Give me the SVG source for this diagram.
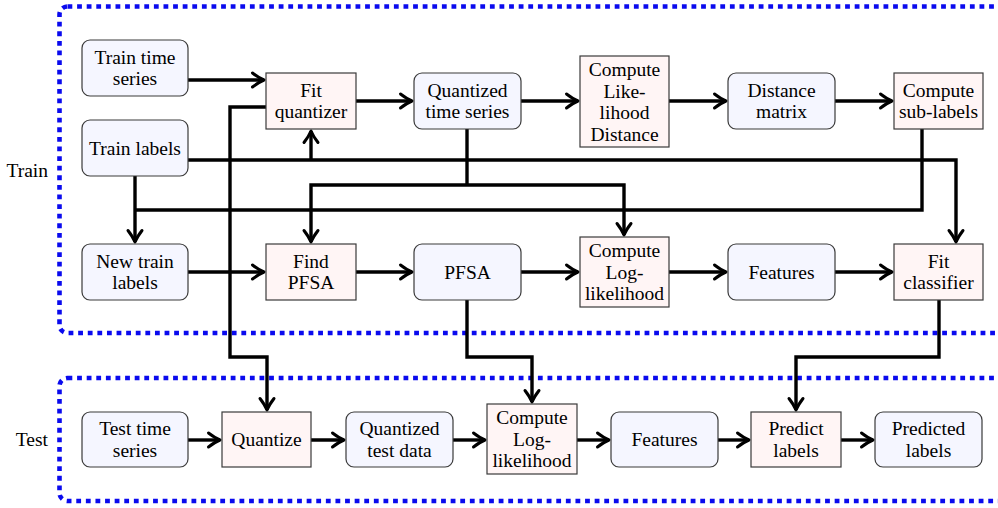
<svg xmlns="http://www.w3.org/2000/svg" width="998" height="508" viewBox="0 0 998 508">
<style>
.rn{fill:#f5f6ff;stroke:#3a3a3a;stroke-width:1.2}
.sq{fill:#fff5f5;stroke:#3a3a3a;stroke-width:1.2}
.grp{fill:none;stroke:#0a0aee;stroke-width:4.6;stroke-dasharray:4.8 4.8}
.w{fill:none;stroke:#000;stroke-width:3.4}
.a{marker-end:url(#ah)}
</style>
<defs>
<marker id="ah" markerUnits="userSpaceOnUse" markerWidth="24" markerHeight="24" viewBox="-16 -12 24 24" refX="0" refY="0" orient="auto" overflow="visible">
<path d="M-11.5,-7 Q-5,-2 0,0 Q-5,2 -11.5,7" fill="none" stroke="#000" stroke-width="3" stroke-linecap="round" stroke-linejoin="round"/>
</marker>
</defs>
<rect width="998" height="508" fill="#fff"/>
<g id="train-group">
<rect class="grp" x="59.5" y="6.5" width="960" height="326.5" rx="8"/>
<text x="48" y="177" text-anchor="end" font-family="'Liberation Serif'" font-size="19.5">Train</text>
</g>
<g id="test-group">
<rect class="grp" x="59.5" y="378" width="960" height="123" rx="8"/>
<text x="48" y="446" text-anchor="end" font-family="'Liberation Serif'" font-size="19.5">Test</text>
</g>
<g id="connectors">
<path class="w a" d="M188,80 H264"/>
<path class="w a" d="M356,101 H412"/>
<path class="w a" d="M521,101 H578"/>
<path class="w a" d="M669,101 H726"/>
<path class="w a" d="M835,101 H892"/>
<path class="w a" d="M188,272 H264"/>
<path class="w a" d="M356,272 H412"/>
<path class="w a" d="M521,272 H578"/>
<path class="w a" d="M669,272 H726"/>
<path class="w a" d="M835,272 H892"/>
<path class="w a" d="M188,440 H220"/>
<path class="w a" d="M311,440 H344"/>
<path class="w a" d="M453,440 H485"/>
<path class="w a" d="M577,440 H609"/>
<path class="w a" d="M718,440 H749"/>
<path class="w a" d="M841,440 H873"/>
<path class="w a" d="M188,160 H956 V242"/>
<path class="w a" d="M311,160 V131"/>
<path class="w a" d="M135,176 V242"/>
<path class="w" d="M922,129 V210 H135"/>
<path class="w" d="M467,129 V185"/>
<path class="w a" d="M467,185 H311 V242"/>
<path class="w a" d="M467,185 H624 V235"/>
<path class="w a" d="M266,107 H230 V357 H267 V410"/>
<path class="w a" d="M467,300 V357 H532 V402"/>
<path class="w a" d="M939,300 V357 H796 V410"/>
</g>
<g id="n-train-ts"><rect class="rn" x="82" y="40" width="106" height="56" rx="8"/><text x="135" y="63.5" text-anchor="middle" font-family="'Liberation Serif'" font-size="19.5">Train time</text><text x="135" y="85" text-anchor="middle" font-family="'Liberation Serif'" font-size="19.5">series</text></g>
<g id="n-fit-quantizer"><rect class="sq" x="266" y="73" width="90" height="56"/><text x="311" y="96.5" text-anchor="middle" font-family="'Liberation Serif'" font-size="19.5">Fit</text><text x="311" y="118" text-anchor="middle" font-family="'Liberation Serif'" font-size="19.5">quantizer</text></g>
<g id="n-quantized-ts"><rect class="rn" x="414" y="73" width="107" height="56" rx="8"/><text x="467.5" y="96.5" text-anchor="middle" font-family="'Liberation Serif'" font-size="19.5">Quantized</text><text x="467.5" y="118" text-anchor="middle" font-family="'Liberation Serif'" font-size="19.5">time series</text></g>
<g id="n-compute-lld"><rect class="sq" x="580" y="56" width="89" height="91"/><text x="624.5" y="76" text-anchor="middle" font-family="'Liberation Serif'" font-size="19.5">Compute</text><text x="624.5" y="97.5" text-anchor="middle" font-family="'Liberation Serif'" font-size="19.5">Like-</text><text x="624.5" y="119" text-anchor="middle" font-family="'Liberation Serif'" font-size="19.5">lihood</text><text x="624.5" y="140.5" text-anchor="middle" font-family="'Liberation Serif'" font-size="19.5">Distance</text></g>
<g id="n-distance-matrix"><rect class="rn" x="728" y="73" width="107" height="56" rx="8"/><text x="781.5" y="96.5" text-anchor="middle" font-family="'Liberation Serif'" font-size="19.5">Distance</text><text x="781.5" y="118" text-anchor="middle" font-family="'Liberation Serif'" font-size="19.5">matrix</text></g>
<g id="n-sub-labels"><rect class="sq" x="894" y="73" width="89" height="56"/><text x="938.5" y="96.5" text-anchor="middle" font-family="'Liberation Serif'" font-size="19.5">Compute</text><text x="938.5" y="118" text-anchor="middle" font-family="'Liberation Serif'" font-size="19.5">sub-labels</text></g>
<g id="n-train-labels"><rect class="rn" x="82" y="120" width="106" height="56" rx="8"/><text x="135" y="155" text-anchor="middle" font-family="'Liberation Serif'" font-size="19.5">Train labels</text></g>
<g id="n-new-train-labels"><rect class="rn" x="82" y="244" width="106" height="56" rx="8"/><text x="135" y="267.5" text-anchor="middle" font-family="'Liberation Serif'" font-size="19.5">New train</text><text x="135" y="289" text-anchor="middle" font-family="'Liberation Serif'" font-size="19.5">labels</text></g>
<g id="n-find-pfsa"><rect class="sq" x="266" y="244" width="90" height="56"/><text x="311" y="267.5" text-anchor="middle" font-family="'Liberation Serif'" font-size="19.5">Find</text><text x="311" y="289" text-anchor="middle" font-family="'Liberation Serif'" font-size="19.5">PFSA</text></g>
<g id="n-pfsa"><rect class="rn" x="414" y="244" width="107" height="56" rx="8"/><text x="467.5" y="278.5" text-anchor="middle" font-family="'Liberation Serif'" font-size="19.5">PFSA</text></g>
<g id="n-loglik-train"><rect class="sq" x="580" y="237" width="89" height="70"/><text x="624.5" y="257" text-anchor="middle" font-family="'Liberation Serif'" font-size="19.5">Compute</text><text x="624.5" y="278.5" text-anchor="middle" font-family="'Liberation Serif'" font-size="19.5">Log-</text><text x="624.5" y="300" text-anchor="middle" font-family="'Liberation Serif'" font-size="19.5">likelihood</text></g>
<g id="n-features-train"><rect class="rn" x="728" y="244" width="107" height="56" rx="8"/><text x="781.5" y="278.5" text-anchor="middle" font-family="'Liberation Serif'" font-size="19.5">Features</text></g>
<g id="n-fit-classifier"><rect class="sq" x="894" y="244" width="89" height="56"/><text x="938.5" y="267.5" text-anchor="middle" font-family="'Liberation Serif'" font-size="19.5">Fit</text><text x="938.5" y="289" text-anchor="middle" font-family="'Liberation Serif'" font-size="19.5">classifier</text></g>
<g id="n-test-ts"><rect class="rn" x="82" y="412" width="106" height="55" rx="8"/><text x="135" y="435" text-anchor="middle" font-family="'Liberation Serif'" font-size="19.5">Test time</text><text x="135" y="456.5" text-anchor="middle" font-family="'Liberation Serif'" font-size="19.5">series</text></g>
<g id="n-quantize"><rect class="sq" x="222" y="412" width="89" height="55"/><text x="266.5" y="446" text-anchor="middle" font-family="'Liberation Serif'" font-size="19.5">Quantize</text></g>
<g id="n-quantized-test"><rect class="rn" x="346" y="412" width="107" height="55" rx="8"/><text x="399.5" y="435" text-anchor="middle" font-family="'Liberation Serif'" font-size="19.5">Quantized</text><text x="399.5" y="456.5" text-anchor="middle" font-family="'Liberation Serif'" font-size="19.5">test data</text></g>
<g id="n-loglik-test"><rect class="sq" x="487" y="404" width="90" height="70"/><text x="532" y="424" text-anchor="middle" font-family="'Liberation Serif'" font-size="19.5">Compute</text><text x="532" y="445.5" text-anchor="middle" font-family="'Liberation Serif'" font-size="19.5">Log-</text><text x="532" y="467" text-anchor="middle" font-family="'Liberation Serif'" font-size="19.5">likelihood</text></g>
<g id="n-features-test"><rect class="rn" x="611" y="412" width="107" height="55" rx="8"/><text x="664.5" y="446" text-anchor="middle" font-family="'Liberation Serif'" font-size="19.5">Features</text></g>
<g id="n-predict"><rect class="sq" x="751" y="412" width="90" height="55"/><text x="796" y="435" text-anchor="middle" font-family="'Liberation Serif'" font-size="19.5">Predict</text><text x="796" y="456.5" text-anchor="middle" font-family="'Liberation Serif'" font-size="19.5">labels</text></g>
<g id="n-predicted"><rect class="rn" x="875" y="412" width="107" height="55" rx="8"/><text x="928.5" y="435" text-anchor="middle" font-family="'Liberation Serif'" font-size="19.5">Predicted</text><text x="928.5" y="456.5" text-anchor="middle" font-family="'Liberation Serif'" font-size="19.5">labels</text></g>
</svg>
